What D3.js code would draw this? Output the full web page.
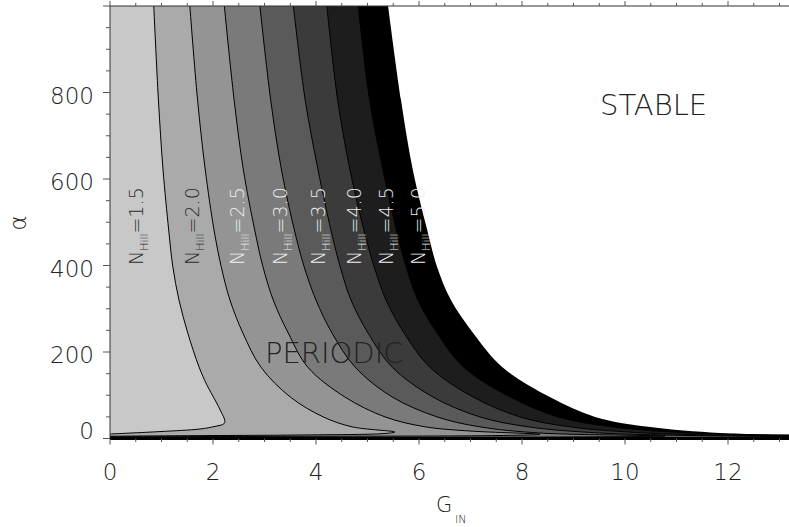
<!DOCTYPE html>
<html>
<head>
<meta charset="utf-8">
<script src="https://cdn.jsdelivr.net/npm/d3@7/dist/d3.min.js"></script>
<style>
body { margin: 0; background: #fff; }
svg text { font-family: "DejaVu Sans", sans-serif; font-weight: 200; }
</style>
</head>
<body>
<svg id="chart" width="789" height="527"></svg>
<script>
// contour levels of N_Hill and the [G_IN, alpha] points read along each boundary
var levels = ["1.5", "2.0", "2.5", "3.0", "3.5", "4.0", "4.5", "5.0"];

var nHill15 = [[0.85,1000],[0.94,783],[1.03,621],[1.14,482],[1.22,397],[1.34,320],[1.51,244],[1.73,165],[1.88,124],[2.04,89],[2.16,61],[2.23,41],[2.21,34],[2.04,28],[1.75,22],[0.97,16],[0,10.4]];
var nHill20 = [[1.55,1000],[1.70,783],[1.85,621],[2.02,482],[2.16,397],[2.33,320],[2.58,244],[2.93,165],[3.50,96],[4.14,50],[4.70,27],[5.53,15],[5.34,11.6],[3.69,8.1],[1.75,6.7],[0,5.3]];
var nHill25 = [[2.22,1000],[2.41,783],[2.59,621],[2.81,482],[2.97,397],[3.17,320],[3.46,244],[3.84,165],[4.56,96],[5.34,50],[6.12,27],[6.99,17.3],[8.35,9.7],[7.57,6.9],[3.69,5.1],[0,3.9]];
var nHill30 = [[2.91,1000],[3.12,783],[3.33,621],[3.58,482],[3.77,397],[4.00,320],[4.31,244],[4.76,165],[5.48,96],[6.35,50],[7.18,27],[8.35,12.7],[10.78,5.8],[8.74,3.5],[0,2.5]];
var nHill35 = [[3.56,1000],[3.79,783],[4.04,621],[4.29,482],[4.47,397],[4.68,320],[5.01,244],[5.48,165],[6.27,96],[7.18,50],[8.12,27],[9.51,12.7],[11.26,6.9],[13.2,4.4]];
var nHill40 = [[4.21,1000],[4.42,783],[4.66,621],[4.93,482],[5.13,397],[5.36,320],[5.71,244],[6.21,165],[7.05,96],[7.96,50],[8.93,27],[10.39,12.7],[11.75,8.1],[13.2,5.3]];
var nHill45 = [[4.82,1000],[5.04,783],[5.30,621],[5.56,482],[5.75,397],[5.98,320],[6.35,244],[6.87,165],[7.77,96],[8.70,50],[9.75,27],[11.26,12.7],[13.2,7.4]];
var nHill50 = [[5.40,1000],[5.65,783],[5.88,621],[6.16,482],[6.35,397],[6.62,320],[7.05,244],[7.62,165],[8.54,96],[9.42,50],[10.45,27],[11.84,12.7],[13.2,9.2]];

var curves = [nHill15, nHill20, nHill25, nHill30, nHill35, nHill40, nHill45, nHill50];
var labelG = [0.50, 1.59, 2.47, 3.30, 4.04, 4.74, 5.36, 5.98];
var labelAlpha = 401;

var xTicks = [0, 2, 4, 6, 8, 10, 12];
var yTicks = [0, 200, 400, 600, 800];

(function(){
var fills = ["#c8c8c8", "#aaaaaa", "#949494", "#7a7a7a", "#5a5a5a", "#3b3b3b", "#1d1d1d", "#000000"];

var svg = d3.select("#chart");
var pl = 110, pt = 6, pr = 789.8, pb = 438.5;
var x = d3.scaleLinear().domain([0, 13.2]).range([pl, pr]);
var y = d3.scaleLinear().domain([0, 1000]).range([pb, pt]);

svg.append("defs").append("clipPath").attr("id", "plot")
  .append("rect").attr("x", pl).attr("y", pt).attr("width", pr - pl).attr("height", pb - pt);

var plot = svg.append("g").attr("clip-path", "url(#plot)");

var line = d3.line().x(function(d){ return x(d[0]); }).y(function(d){ return y(d[1]); })
  .curve(d3.curveCatmullRom.alpha(0.5));

function closing(pts){
  var last = pts[pts.length - 1], out = [];
  if (last[0] > 0) { out.push([13.3, 0]); out.push([0, 0]); }
  out.push([0, 1000]);
  return out.map(function(p){ return "L" + x(p[0]) + "," + y(p[1]); }).join("") + "Z";
}

// outermost first, inner regions paint over
for (var i = curves.length - 1; i >= 0; i--) {
  plot.append("path")
    .attr("d", line(curves[i]) + closing(curves[i]))
    .attr("fill", fills[i])
    .attr("stroke", "none");
}

// contour lines (the 5.0 boundary is the edge of the black region)
for (var j = 0; j < curves.length - 1; j++) {
  plot.append("path")
    .attr("d", line(curves[j]))
    .attr("fill", "none")
    .attr("stroke", "#000")
    .attr("stroke-width", 1);
}

// contour labels
levels.forEach(function(lv, k){
  var bx = x(labelG[k]) + 7, by = y(labelAlpha);
  var t = svg.append("text")
    .attr("transform", "translate(" + bx + "," + by + ") rotate(-90)")
    .attr("fill", k < 2 ? "#2a2a2a" : "#eeeeee")
    .style("font-size", "19px");
  t.append("tspan").text("N");
  t.append("tspan").attr("dy", 5).style("font-size", "11px").text("Hill");
  t.append("tspan").attr("dy", -5).text("=" + lv);
});

svg.append("text").attr("x", 265).attr("y", 363).attr("fill", "#222")
  .style("font-size", "29px").text("PERIODIC");
svg.append("text").attr("x", 600).attr("y", 115).attr("fill", "#222")
  .style("font-size", "29px").text("STABLE");

// axes
var axisCol = "#333";
svg.append("line").attr("x1", pl).attr("x2", pr).attr("y1", pt).attr("y2", pt)
  .attr("stroke", axisCol).attr("stroke-width", 1);
svg.append("line").attr("x1", pl).attr("x2", pl).attr("y1", pt).attr("y2", pb)
  .attr("stroke", axisCol).attr("stroke-width", 1);
svg.append("line").attr("x1", pl).attr("x2", pr).attr("y1", pb).attr("y2", pb)
  .attr("stroke", "#000").attr("stroke-width", 3);

var xMinor = d3.range(0, 13.21, 0.5);
var yMinor = d3.range(0, 1000.1, 50);

svg.selectAll(".xtb").data(xMinor).enter().append("line")
  .attr("x1", function(d){ return x(d); }).attr("x2", function(d){ return x(d); })
  .attr("y1", pb).attr("y2", function(d){ return pb + (d % 2 === 0 ? 6 : 3.5); })
  .attr("stroke", "#555");
svg.selectAll(".xtt").data(xMinor).enter().append("line")
  .attr("x1", function(d){ return x(d); }).attr("x2", function(d){ return x(d); })
  .attr("y1", pt).attr("y2", function(d){ return pt - (d % 2 === 0 ? 5 : 3); })
  .attr("stroke", "#555");
svg.selectAll(".ytl").data(yMinor).enter().append("line")
  .attr("y1", function(d){ return y(d); }).attr("y2", function(d){ return y(d); })
  .attr("x1", pl).attr("x2", function(d){ return pl - (d % 200 === 0 ? 7 : 4); })
  .attr("stroke", "#555");

svg.selectAll(".xl").data(xTicks).enter().append("text")
  .attr("x", function(d){ return x(d); }).attr("y", 480)
  .attr("text-anchor", "middle").attr("fill", "#222")
  .style("font-size", "23px").text(function(d){ return d; });
svg.selectAll(".yl").data(yTicks).enter().append("text")
  .attr("x", 94).attr("y", function(d){ return d === 0 ? 439 : y(d) + 11; })
  .attr("text-anchor", "end").attr("fill", "#222")
  .style("font-size", "23px").text(function(d){ return d; });

var gl = svg.append("text").attr("x", 436).attr("y", 512).attr("fill", "#222").style("font-size", "21px");
gl.append("tspan").text("G");
gl.append("tspan").attr("x", 455).attr("y", 523).style("font-size", "11px").text("IN");

svg.append("text").attr("transform", "translate(26,223) rotate(-90)")
  .attr("text-anchor", "middle").attr("fill", "#222")
  .style("font-size", "23px").text("α");
})();
</script>
</body>
</html>
